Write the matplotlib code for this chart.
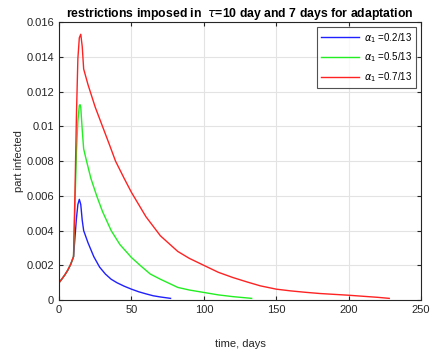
import matplotlib
matplotlib.use('Agg')
import matplotlib.pyplot as plt

plt.rcParams['font.family'] = ['Liberation Sans', 'DejaVu Sans']

# part infected vs time for three alpha_1 values
t_blue = [0, 2, 4, 6, 8, 10, 11, 12, 13, 14, 15, 16, 17, 20, 24, 28, 32, 36, 40, 45, 50, 55, 60, 65, 70, 77]
y_blue = [0.0010, 0.00122, 0.00145, 0.00172, 0.00205, 0.0025, 0.0036, 0.0047, 0.0055, 0.0058, 0.0055,
          0.0046, 0.0040, 0.0033, 0.0025, 0.0019, 0.0015, 0.0012, 0.0010, 0.0008, 0.00063, 0.00048,
          0.00036, 0.00025, 0.00018, 0.0001]

t_green = [0, 2, 4, 6, 8, 10, 11, 12, 13, 14, 14.5, 15, 16, 17, 19, 22, 26, 30, 36, 42, 50, 56, 63,
           70, 82, 90, 100, 110, 120, 133]
y_green = [0.0010, 0.00122, 0.00145, 0.00172, 0.00205, 0.0025, 0.0055, 0.0085, 0.0103, 0.0112, 0.01125,
           0.0111, 0.0098, 0.0087, 0.0080, 0.0070, 0.0060, 0.0051, 0.0040, 0.0032, 0.00245, 0.0020,
           0.0015, 0.0012, 0.00073, 0.00058, 0.00044, 0.00030, 0.00020, 0.0001]

t_red = [0, 2, 4, 6, 8, 10, 11, 12, 13, 14, 15, 16, 17, 20, 25, 30, 35, 39, 45, 50, 55, 60, 70, 82,
         90, 100, 110, 120, 130, 139, 150, 160, 170, 180, 190, 200, 210, 220, 228]
y_red = [0.0010, 0.00122, 0.00145, 0.00172, 0.00205, 0.0025, 0.0062, 0.0106, 0.0139, 0.0151, 0.0153,
         0.0146, 0.0133, 0.0124, 0.0111, 0.0100, 0.0089, 0.0080, 0.0070, 0.0062, 0.0055, 0.0048,
         0.0037, 0.0028, 0.0024, 0.0020, 0.0016, 0.0013, 0.00104, 0.00082, 0.00063, 0.00053,
         0.00045, 0.00038, 0.00033, 0.00028, 0.00022, 0.00016, 0.0001]

labels = [r'$\alpha_1$ =0.2/13', r'$\alpha_1$ =0.5/13', r'$\alpha_1$ =0.7/13']
xticks = [0, 50, 100, 150, 200, 250]
yticks = [0, 0.002, 0.004, 0.006, 0.008, 0.01, 0.012, 0.014, 0.016]
ytick_labels = ['0', '0.002', '0.004', '0.006', '0.008', '0.01', '0.012', '0.014', '0.016']

fig = plt.figure(figsize=(4.31, 3.51), dpi=100)
ax = fig.add_axes([0.137, 0.145, 0.840, 0.792])

ax.plot(t_blue, y_blue, color='#2020ff', lw=1, label=labels[0])
ax.plot(t_green, y_green, color='#22ee22', lw=1, label=labels[1])
ax.plot(t_red, y_red, color='#ff2222', lw=1, label=labels[2])

ax.set_xlim(0, 250)
ax.set_ylim(0, 0.016)
ax.set_xticks(xticks)
ax.set_yticks(yticks)
ax.set_yticklabels(ytick_labels)
ax.grid(True, color='#e3e3e3', lw=0.8)
ax.tick_params(direction='in', top=True, right=True, labelsize=8, colors='#262626', length=3)
for s in ax.spines.values():
    s.set_color('#262626')
    s.set_linewidth(0.8)

ax.set_xlabel('time, days', fontsize=8, labelpad=17, color='#262626')
ax.set_ylabel('part infected', fontsize=8, labelpad=2, color='#262626')
ax.set_title(r'restrictions imposed in  $\tau$=10 day and 7 days for adaptation',
             fontsize=8.8, fontweight='bold', pad=4)

leg = ax.legend(loc='upper right', fontsize=7, handlelength=4.0, frameon=True, fancybox=False,
                borderaxespad=0.5, labelspacing=0.6, handletextpad=0.5)
leg.get_frame().set_edgecolor('#262626')
leg.get_frame().set_linewidth(0.8)

fig.savefig('out.png', dpi=100)
